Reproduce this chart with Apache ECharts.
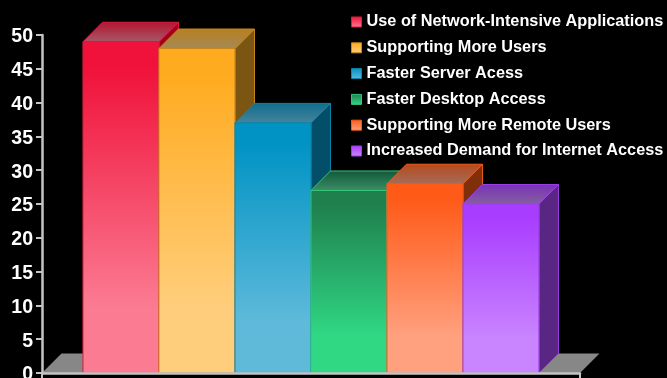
<!DOCTYPE html>
<html>
<head>
<meta charset="utf-8">
<style>html,body{margin:0;padding:0;background:#000}#chart{width:667px;height:378px}</style>
<script src="https://cdn.jsdelivr.net/npm/echarts@6/dist/echarts.min.js"></script>
</head>
<body>
<div id="chart"></div>
<script>
// Reasons for upgrading network capacity, one block per reason
const reasons = [
  'Use of Network-Intensive Applications',
  'Supporting More Users',
  'Faster Server Acess',
  'Faster Desktop Access',
  'Supporting More Remote Users',
  'Increased Demand for Internet Access'
];
const shares = [49, 48, 37, 27, 28, 25];
const yTicks = [0, 5, 10, 15, 20, 25, 30, 35, 40, 45, 50];

// Front face shading: top colour, bottom colour; then edge and side colours
const frontTop = ['#f0123a', '#ffab1f', '#0093c4', '#1f804e', '#ff5a18', '#a93dff'];
const frontBottom = ['#fb7b92', '#ffce7c', '#5fbada', '#30d884', '#ffa07e', '#c985ff'];
const edge = ['#dc1a3e', '#c8881c', '#0c86ae', '#35c47a', '#f05a1c', '#9a3fe6'];
const side = ['#a3001f', '#7a5612', '#034f69', '#0f4a2c', '#7f2f0a', '#5a2683'];
const topBack = ['#b3152f', '#b87f1e', '#0f6d8d', '#10583a', '#b64a1c', '#7a31b8'];
const topFront = ['#a5596b', '#a48a58', '#47849c', '#3d8f66', '#a56c5a', '#84609f'];

const DEPTH = 19.5;
const xMin = -0.539;
const xMax = 6.54;

function block(index) {
  return function (params, api) {
    const tl = api.coord([api.value(0), api.value(1)]);
    const br = api.coord([api.value(0) + 1, 0]);
    const [x0, y0] = tl;
    const [x1, y1] = br;
    return {
      type: 'group',
      children: [
        {
          type: 'polygon',
          shape: { points: [[x1, y0], [x1 + DEPTH, y0 - DEPTH], [x1 + DEPTH, y1 - DEPTH], [x1, y1]] },
          style: { fill: side[index], stroke: edge[index], lineWidth: 1 }
        },
        {
          type: 'polygon',
          shape: { points: [[x0, y0], [x0 + DEPTH, y0 - DEPTH], [x1 + DEPTH, y0 - DEPTH], [x1, y0]] },
          style: {
            fill: { type: 'linear', x: 0, y: 0, x2: 0, y2: 1, colorStops: [
              { offset: 0, color: topBack[index] }, { offset: 1, color: topFront[index] }
            ] },
            stroke: edge[index], lineWidth: 1
          }
        },
        {
          type: 'rect',
          shape: { x: x0, y: y0, width: x1 - x0, height: y1 - y0 },
          style: {
            fill: { type: 'linear', x: 0, y: 0, x2: 0, y2: 1, colorStops: [
              { offset: 0, color: frontTop[index] }, { offset: 0.08, color: frontTop[index] },
              { offset: 0.8, color: frontBottom[index] }, { offset: 1, color: frontBottom[index] }
            ] },
            stroke: edge[index], lineWidth: 1
          }
        }
      ]
    };
  };
}

// Grey floor behind the blocks, spanning the whole horizontal axis
const floorSeries = {
  type: 'custom',
  name: 'floor',
  silent: true,
  z: 1,
  data: [[xMin, xMax]],
  renderItem: function (params, api) {
    const a = api.coord([api.value(0), 0]);
    const b = api.coord([api.value(1), 0]);
    return {
      type: 'polygon',
      shape: { points: [[a[0], a[1]], [a[0] + DEPTH, a[1] - DEPTH], [b[0] + DEPTH, b[1] - DEPTH], [b[0], b[1]]] },
      style: { fill: '#878787' }
    };
  }
};

const blockSeries = reasons.map((name, i) => ({
  type: 'custom',
  name,
  z: 2 + i,
  itemStyle: {
    color: { type: 'linear', x: 0, y: 0, x2: 0, y2: 1, colorStops: [
      { offset: 0, color: frontTop[i] }, { offset: 1, color: frontBottom[i] }
    ] },
    borderColor: edge[i],
    borderWidth: 1
  },
  data: [[i, shares[i]]],
  encode: { x: 0, y: 1 },
  renderItem: block(i)
}));

const chart = echarts.init(document.getElementById('chart'), null, { renderer: 'canvas' });
chart.setOption({
  animation: false,
  backgroundColor: '#000',
  textStyle: { fontFamily: '"Liberation Sans", Arial, sans-serif' },
  grid: { left: 42, top: 35, width: 538, height: 338, outerBoundsMode: 'none' },
  legend: {
    data: reasons,
    orient: 'vertical',
    left: 346,
    top: 8,
    icon: 'rect',
    itemWidth: 10,
    itemHeight: 10,
    itemGap: 7.8,
    selectedMode: false,
    textStyle: {
      color: '#fff',
      fontFamily: '"Liberation Sans", Arial, sans-serif',
      fontWeight: 'bold',
      fontSize: 16.3,
      lineHeight: 18
    },
    itemStyle: { borderWidth: 1 }
  },
  xAxis: {
    type: 'value',
    min: xMin,
    max: xMax,
    z: 20,
    splitLine: { show: false },
    axisLabel: { show: false },
    axisLine: { show: true, onZero: false, lineStyle: { color: '#c4c4c4', width: 2.5 } },
    axisTick: { show: true, customValues: [xMin, xMax], length: 6, lineStyle: { color: '#c4c4c4', width: 2 } }
  },
  yAxis: {
    type: 'value',
    min: 0,
    max: 50,
    interval: 5,
    z: 20,
    splitLine: { show: false },
    axisLine: { show: true, onZero: false, lineStyle: { color: '#c4c4c4', width: 2.5 } },
    axisTick: { show: true, length: 6, lineStyle: { color: '#c4c4c4', width: 2 } },
    axisLabel: {
      color: '#fff',
      margin: 9,
      showMinLabel: true,
      showMaxLabel: true,
      formatter: v => (yTicks.includes(v) ? `{tick|${v}}` : ''),
      rich: {
        // top padding nudges the numerals just below their tick marks
        tick: { color: '#fff', fontWeight: 'bold', fontSize: 19.5, padding: [4, 0, 0, 0] }
      }
    }
  },
  series: [floorSeries, ...blockSeries]
});
</script>
</body>
</html>
